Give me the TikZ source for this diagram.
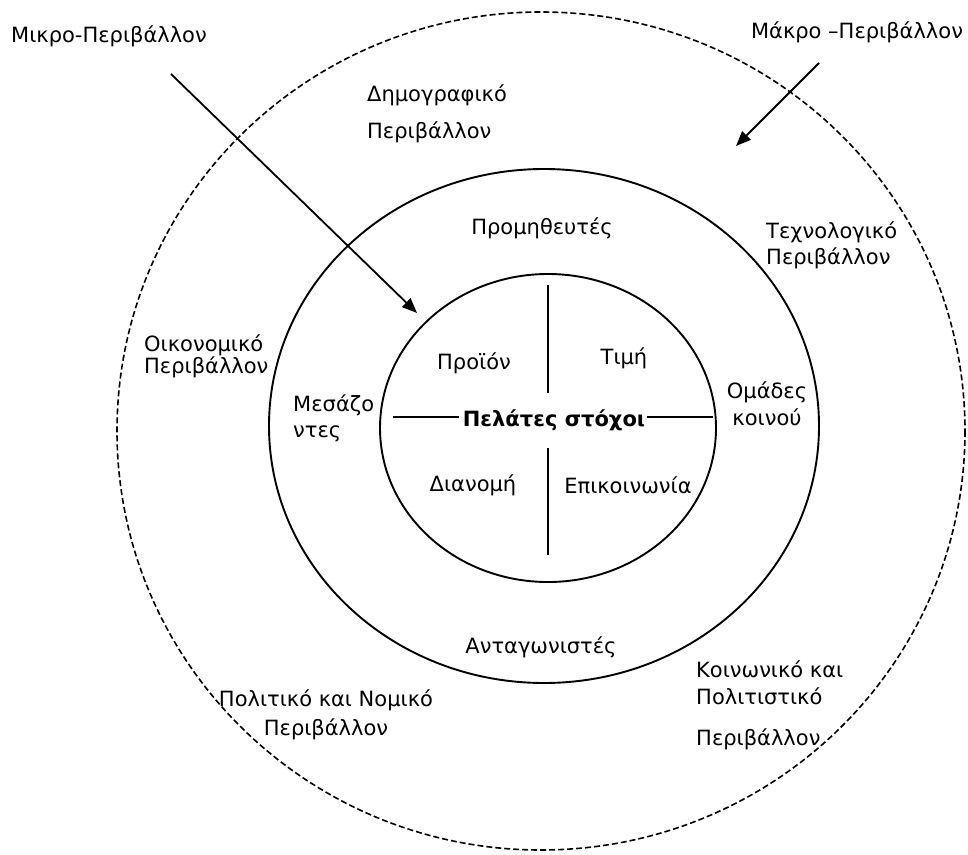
\documentclass[tikz,border=0pt]{standalone}
\usepackage{fontspec}
\setmainfont{DejaVu Sans}
\usetikzlibrary{arrows.meta}

\tikzset{
    label/.style={inner sep=0pt, font=\fontsize{21}{24}\selectfont},
    ring/.style={line width=1.9pt, black},
    pointer/.style={line width=1.8pt, -{Triangle[length=15pt,width=12pt]}}
}

\begin{document}
\begin{tikzpicture}[x=1pt, y=-1pt]
                    \useasboundingbox (0,0) rectangle (968,854);

                    \coordinate (C0) at (541, 431);
                    \coordinate (C1) at (544, 426);
                    \coordinate (C2) at (548, 428);

                    \draw[line width=1.6pt, dash pattern=on 6pt off 3pt] (C0) ellipse [x radius=424, y radius=419];
                    \draw[ring] (C1) ellipse [x radius=275, y radius=257];
                    \draw[ring] (C2) ellipse [x radius=168, y radius=154];

                    \node[label, font=\fontsize{21}{24}\selectfont\bfseries] (target) at (554, 420) {Πελάτες στόχοι};
                    \coordinate (Ctop) at (548, 285);
                    \coordinate (Cbot) at (548, 555);
                    \coordinate (Cleft) at (393, 417);
                    \coordinate (Cright) at (713, 417);
                    \draw[ring] (Ctop) -- (548, 393);
                    \draw[ring] (548, 448) -- (Cbot);
                    \draw[ring] (Cleft) -- (459, 417);
                    \draw[ring] (647, 417) -- (Cright);

                    \node[label] (product) at (474, 363) {Προϊόν};
                    \node[label] (price) at (624, 358) {Τιμή};
                    \node[label] (place) at (473, 485) {Διανομή};
                    \node[label] (promo) at (628, 485) {Επικοινωνία};

                    \node[label] (suppliers) at (542, 228) {Προμηθευτές};
                    \node[label] (rivals) at (541, 647) {Ανταγωνιστές};
                    \node[label, anchor=west] (middle1) at (293, 405) {Μεσάζο};
                    \node[label, anchor=west] (middle2) at (293, 434) {ντες};
                    \node[label] (publics1) at (767, 392) {Ομάδες};
                    \node[label] (publics2) at (767, 417) {κοινού};

                    \node[label, anchor=west] (demo1) at (367, 95) {Δημογραφικό};
                    \node[label, anchor=west] (demo2) at (367, 132) {Περιβάλλον};
                    \node[label, anchor=west] (tech1) at (766, 232) {Τεχνολογικό};
                    \node[label, anchor=west] (tech2) at (766, 258) {Περιβάλλον};
                    \node[label, anchor=west] (econ1) at (144, 345) {Οικονομικό};
                    \node[label, anchor=west] (econ2) at (144, 367) {Περιβάλλον};
                    \node[label] (law1) at (326, 700) {Πολιτικό και Νομικό};
                    \node[label] (law2) at (326, 729) {Περιβάλλον};
                    \node[label, anchor=west] (social1) at (696, 669) {Κοινωνικό και};
                    \node[label, anchor=west] (social2) at (696, 696) {Πολιτιστικό};
                    \node[label, anchor=west] (social3) at (696, 739) {Περιβάλλον};

                    \node[label] (micro) at (109, 36) {Μικρο-Περιβάλλον};
                    \node[label] (macro) at (857, 32) {Μάκρο –Περιβάλλον};
                    \coordinate (Mstart) at (171, 74);
                    \coordinate (Mtip) at (417, 313);
                    \coordinate (Nstart) at (819, 63);
                    \coordinate (Ntip) at (736, 146);
                    \draw[pointer] (Mstart) -- (Mtip);
                    \draw[pointer] (Nstart) -- (Ntip);
                \end{tikzpicture}
\end{document}
